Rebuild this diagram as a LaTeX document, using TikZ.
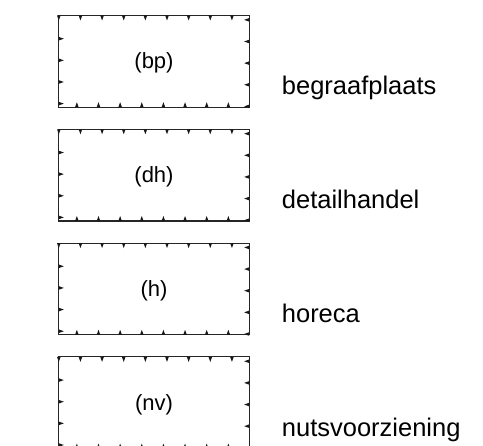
\documentclass[tikz,border=0pt]{standalone}
\usepackage{fontspec}
\setmainfont{Liberation Sans}
\usepackage{tikz}
\usetikzlibrary{decorations.markings,positioning}

\begin{document}
\begin{tikzpicture}[
    x=1pt, y=-1pt,
    zone/.style={minimum width=190pt, minimum height=91.3pt, inner sep=0pt,
                 text height=20pt, text depth=4.7pt,
                 font=\fontsize{22}{26}\selectfont},
    ticked/.style={draw=black!85, line width=1.1pt, line join=miter,
        postaction={decorate, decoration={markings,
          mark=between positions 0 and 0.99 step 21.64pt with
            {\fill[black!90] (-1.8pt,0pt) -- (0pt,-5pt) -- (1.8pt,0pt) -- cycle;}}}},
    lbl/.style={anchor=base west, inner sep=0pt, font=\fontsize{25.5}{30}\selectfont},
    ]
\useasboundingbox (0,0) rectangle (483,446);

\node[zone] (bp) at (154,61.35) {(bp)};
\node[zone, below=22.1pt of bp] (dh) {(dh)};
\node[zone, below=22.1pt of dh] (h) {(h)};
\node[zone, below=22.1pt of h] (nv) {(nv)};

\draw[ticked] (bp.north west) -- (bp.north east) -- (bp.south east) -- (bp.south west) -- cycle;
\draw[ticked] (dh.north west) -- (dh.north east) -- (dh.south east) -- (dh.south west) -- cycle;
\draw[ticked] (h.north west) -- (h.north east) -- (h.south east) -- (h.south west) -- cycle;
\draw[ticked] (nv.north west) -- (nv.north east) -- (nv.south east) -- (nv.south west) -- cycle;

\node[lbl] (bp-txt) at ([shift={(32.5,33.65)}]bp.east) {begraafplaats};
\node[lbl] (dh-txt) at ([shift={(32.5,33.65)}]dh.east) {detailhandel};
\node[lbl] (h-txt) at ([shift={(32.5,33.65)}]h.east) {horeca};
\node[lbl] (nv-txt) at ([shift={(32.5,33.65)}]nv.east) {nutsvoorziening};
\end{tikzpicture}
\end{document}
